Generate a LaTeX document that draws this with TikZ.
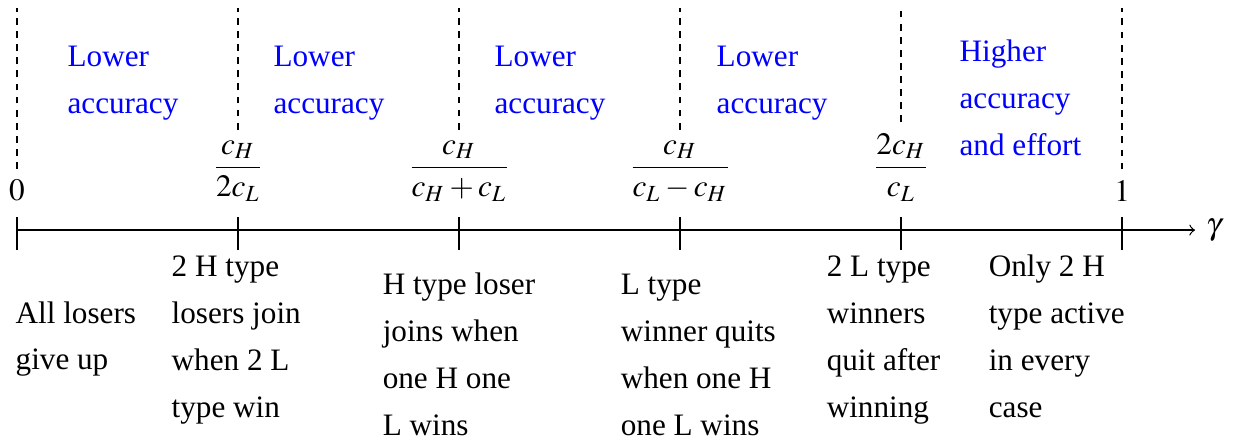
\documentclass[tikz,border=0pt]{standalone}
\usepackage{amsmath}
\usepackage{mathptmx}
\usepackage[no-math]{fontspec}
\setmainfont{Liberation Serif}

\tikzset{
  ticklab/.style={above},
  toplab/.style={anchor=base west, inner sep=0pt, align=left, text=blue,
    font=\fontsize{10}{15}\selectfont},
  botlab/.style={anchor=base west, inner sep=0pt, align=left,
    font=\fontsize{10}{15}\selectfont},
}

\begin{document}
\begin{tikzpicture}[x=2.49cm, y=2.49cm, >=to]
    \useasboundingbox (-0.077,-0.973) rectangle (5.538,1.041);

    % 1. Axis
    \coordinate (axstart) at (0,0);
    \coordinate (axend) at (5.33,0);
    \draw[->] (axstart) -- (axend) node[right] (gam) {$\gamma$};

    % 2. Ticks
    \foreach \i in {0,...,5}
        \draw (\i,0.059) -- (\i,-0.09);

    % 3. Tick labels
    \node[ticklab] (t0) at (0,0.08) {$0$};
    \node[ticklab] (t1) at (1,0.08) {$\dfrac{c_H}{2c_L}$};
    \node[ticklab] (t2) at (2,0.08) {$\dfrac{c_H}{c_H+c_L}$};
    \node[ticklab] (t3) at (3,0.08) {$\dfrac{c_H}{c_L-c_H}$};
    \node[ticklab] (t4) at (4,0.08) {$\dfrac{2c_H}{c_L}$};
    \node[ticklab] (t5) at (5,0.08) {$1$};

    % 4. Dashed separators
    \coordinate (top) at (0,1.005);
    \foreach \i in {0,...,5}
        \draw[dash pattern=on 2.2pt off 2pt] (t\i.north) -- (t\i.north |- top);

    % 5. Accuracy labels (base = last line)
    \node[toplab] (acc1) at (0.226,0.529) {Lower\\accuracy};
    \node[toplab] (acc2) at (1.158,0.529) {Lower\\accuracy};
    \node[toplab] (acc3) at (2.158,0.529) {Lower\\accuracy};
    \node[toplab] (acc4) at (3.163,0.529) {Lower\\accuracy};
    \node[toplab] (acc5) at (4.262,0.339) {Higher\\accuracy\\and effort};

    % 6. Behaviour in each region
    \node[botlab] (beh1) at (-0.009,-0.633) {All losers\\give up};
    \node[botlab] (beh2) at (0.697,-0.846) {2 H type\\losers join\\when 2 L\\type win};
    \node[botlab] (beh3) at (1.652,-0.928) {H type loser\\joins when\\one H one\\L wins};
    \node[botlab] (beh4) at (2.729,-0.928) {L type\\winner quits\\when one H\\one L wins};
    \node[botlab] (beh5) at (3.661,-0.846) {2 L type\\winners\\quit after\\winning};
    \node[botlab] (beh6) at (4.394,-0.846) {Only 2 H\\type active\\in every\\case};
\end{tikzpicture}
\end{document}
